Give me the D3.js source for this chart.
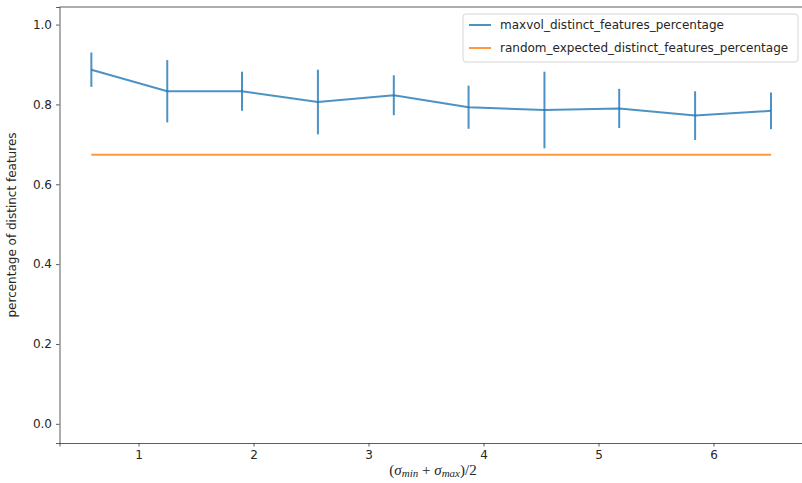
<!DOCTYPE html>
<html>
<head>
<meta charset="utf-8">
<script src="https://cdn.jsdelivr.net/npm/d3@7"></script>
<style>
  body { margin: 0; background: #fff; }
  text { font-family: 'DejaVu Sans', sans-serif; }
</style>
</head>
<body>
<div id="app"></div>
<script>
'use strict'

// x positions: (sigma_min + sigma_max) / 2
const sigmas = [0.59, 1.25, 1.90, 2.56, 3.22, 3.87, 4.53, 5.18, 5.84, 6.50]
const maxvolMean = [0.887, 0.833, 0.833, 0.806, 0.823, 0.793, 0.786, 0.790, 0.772, 0.784]
const maxvolErr = [0.043, 0.078, 0.049, 0.081, 0.050, 0.054, 0.096, 0.049, 0.061, 0.046]
const randomExpected = [0.674, 0.674, 0.674, 0.674, 0.674, 0.674, 0.674, 0.674, 0.674, 0.674]
const xTicks = [1, 2, 3, 4, 5, 6]
const yTicks = [0, 0.2, 0.4, 0.6, 0.8, 1.0]
const seriesNames = ['maxvol_distinct_features_percentage', 'random_expected_distinct_features_percentage']
const colors = ['#1f77b4', '#ff7f0e']

const main = () => {
	const W = 802, H = 483
	const margin = { top: 7, left: 59.5, bottom: 40 }
	const width = W - margin.left
	const height = H - margin.top - margin.bottom

	// 115 px per unit, as in the picture
	const xScale = d3.scaleLinear()
		.domain([0.313, 6.77])
		.range([0, (6.77 - 0.313) * 115])

	const yScale = d3.scaleLinear()
		.domain([-0.048, 1.044])
		.range([height, 0])

	const svg = d3.select('#app').append('svg')
		.attr('width', W)
		.attr('height', H)
		.append('g')
		.attr('transform', `translate(${margin.left}, ${margin.top})`)

	// axes
	const xAxis = svg.append('g')
		.attr('transform', `translate(0, ${height})`)
		.call(d3.axisBottom(xScale).tickValues(xTicks).tickSize(3.5).tickPadding(4).tickFormat(d3.format('d')))
	const yAxis = svg.append('g')
		.call(d3.axisLeft(yScale).tickValues(yTicks).tickSize(3.5).tickPadding(4).tickFormat(d3.format('.1f')))

	;[xAxis, yAxis].forEach(a => {
		a.selectAll('text').style('font-size', '12px').attr('fill', '#262626')
		a.selectAll('line').attr('stroke', '#333').attr('stroke-width', 0.8)
		a.select('.domain').attr('stroke', '#333').attr('stroke-width', 0.8)
	})

	// top spine
	svg.append('line')
		.attr('x1', 0).attr('x2', width)
		.attr('y1', 0).attr('y2', 0)
		.attr('stroke', '#333').attr('stroke-width', 0.8)

	// axis labels
	svg.append('text')
		.attr('transform', `translate(${-44}, ${height / 2}) rotate(-90)`)
		.attr('text-anchor', 'middle')
		.style('font-size', '12px')
		.attr('fill', '#262626')
		.text('percentage of distinct features')

	const xl = svg.append('text')
		.attr('x', 433 - margin.left)
		.attr('y', height + 32)
		.attr('text-anchor', 'middle')
		.style('font-family', "'Liberation Serif', 'DejaVu Serif', serif")
		.style('font-size', '15px')
		.attr('fill', '#262626')
	xl.append('tspan').text('(')
	xl.append('tspan').style('font-style', 'italic').text('σ')
	xl.append('tspan').style('font-style', 'italic').style('font-size', '11px').attr('dy', 2).text('min')
	xl.append('tspan').attr('dy', -2).text(' + ')
	xl.append('tspan').style('font-style', 'italic').text('σ')
	xl.append('tspan').style('font-style', 'italic').style('font-size', '11px').attr('dy', 2).text('max')
	xl.append('tspan').attr('dy', -2).text(')/2')

	const data = sigmas.map((s, i) => ({ x: s, y: maxvolMean[i], e: maxvolErr[i], r: randomExpected[i] }))

	// maxvol line
	svg.append('path')
		.datum(data)
		.attr('fill', 'none')
		.attr('stroke', colors[0])
		.attr('stroke-opacity', 0.8)
		.attr('stroke-width', 2)
		.attr('d', d3.line().x(d => xScale(d.x)).y(d => yScale(d.y)))

	// error bars
	svg.selectAll('.err')
		.data(data)
		.enter().append('line')
		.attr('class', 'err')
		.attr('x1', d => xScale(d.x))
		.attr('x2', d => xScale(d.x))
		.attr('y1', d => yScale(d.y - d.e))
		.attr('y2', d => yScale(d.y + d.e))
		.attr('stroke', colors[0])
		.attr('stroke-opacity', 0.8)
		.attr('stroke-width', 2)

	// random expected line
	svg.append('path')
		.datum(data)
		.attr('fill', 'none')
		.attr('stroke', colors[1])
		.attr('stroke-opacity', 0.8)
		.attr('stroke-width', 2)
		.attr('d', d3.line().x(d => xScale(d.x)).y(d => yScale(d.r)))

	// legend
	const lg = svg.append('g').attr('transform', `translate(${463 - margin.left}, ${14 - margin.top})`)
	lg.append('rect')
		.attr('width', 335).attr('height', 48)
		.attr('rx', 3)
		.attr('fill', 'rgba(255,255,255,0.8)')
		.attr('stroke', '#d6d6d6')
		.attr('stroke-width', 1)
	seriesNames.forEach((name, i) => {
		const yy = 11 + i * 23
		lg.append('line')
			.attr('x1', 6).attr('x2', 28)
			.attr('y1', yy).attr('y2', yy)
			.attr('stroke', colors[i])
			.attr('stroke-opacity', 0.8)
			.attr('stroke-width', 2)
		lg.append('text')
			.attr('x', 37).attr('y', yy)
			.attr('dy', '0.35em')
			.style('font-size', '12px')
			.attr('fill', '#262626')
			.text(name)
	})
}

main()
</script>
</body>
</html>
